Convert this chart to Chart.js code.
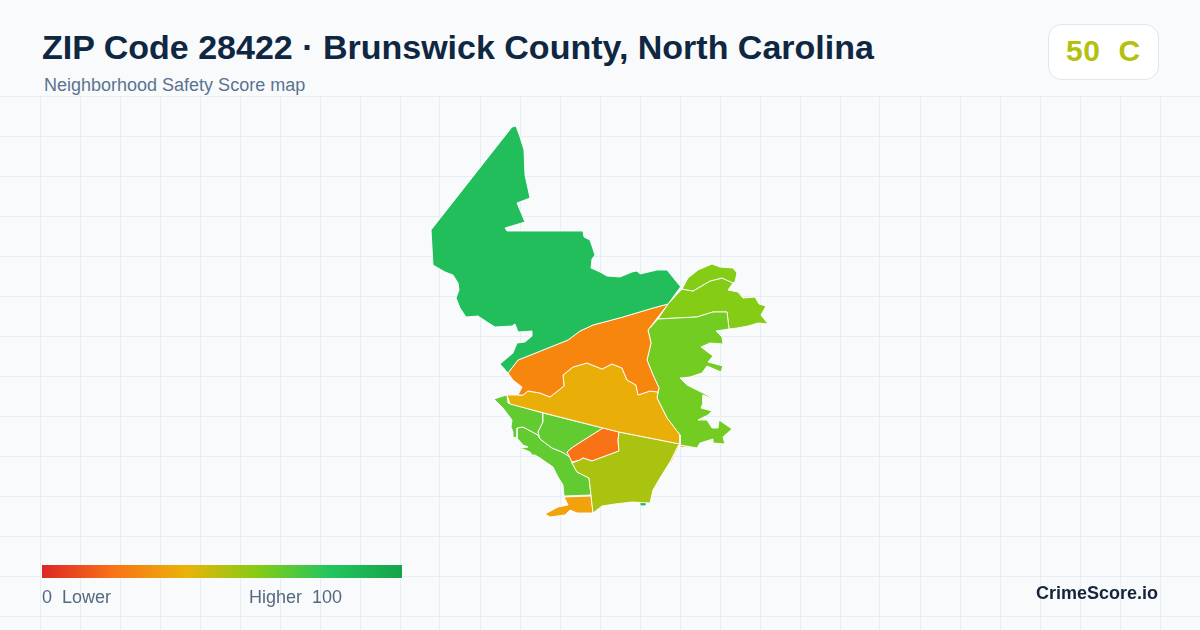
<!DOCTYPE html>
<html><head><meta charset="utf-8">
<script src="https://cdn.jsdelivr.net/npm/chart.js@4"></script>
<style>
html,body{margin:0;padding:0;width:1200px;height:630px;overflow:hidden;background:#f8fafc;font-family:"Liberation Sans",Arial,sans-serif}
#wrap{position:absolute;left:0;top:96px;width:1200px;height:534px}
.t{position:absolute;white-space:pre;line-height:1}
#title{left:42px;top:30px;font-size:34px;font-weight:700;color:#0f2741}
#sub{left:44px;top:76px;font-size:18px;color:#5b7390}
#badge{position:absolute;left:1048px;top:24px;width:109px;height:54px;background:#fff;border:1px solid #dfe6ee;border-radius:14px}
#score{left:1066px;top:36px;font-size:30px;font-weight:700;color:#b5c00e;letter-spacing:.6px}
#bar{position:absolute;left:42px;top:565px;width:360px;height:13px;background:linear-gradient(90deg,#dc2626 0%,#f97316 20%,#eab308 40%,#84cc16 60%,#22c55e 80%,#16a34a 100%)}
#lo{left:42px;top:588px;font-size:18px;color:#56697f}
#hi{left:249px;top:588px;font-size:18px;color:#56697f}
#brand{right:42px;top:584px;font-size:18px;font-weight:700;color:#14243a}
</style></head><body>
<div id="wrap"><canvas id="c" width="1200" height="534"></canvas></div>
<div class="t" id="title">ZIP Code 28422 · Brunswick County, North Carolina</div>
<div class="t" id="sub">Neighborhood Safety Score map</div>
<div id="badge"></div><div class="t" id="score">50  C</div>
<div id="bar"></div>
<div class="t" id="lo">0  Lower</div><div class="t" id="hi">Higher  100</div>
<div class="t" id="brand">CrimeScore.io</div>
<script>
const gridX=[40,80,120,160,200,240,280,320,360,400,440,480,520,560,600,640,680,720,760,800,840,880,920,960,1000,1040,1080,1120,1160];
const gridY=[96,136,176,216,256,296,336,376,416,456,496,536,576,616];
const northGreen=[[516,126],[520,137],[524,150],[525,175],[530,198],[517,203],[525,222],[505,228],[507,231],[583,231],[584,237],[590,240],[595,255],[592,259],[591,268],[600,272],[607,276],[620,277],[632,272],[637,271],[640,274],[657,270],[667,270],[680,286],[687,278],[668,304],[653,308],[623,317],[593,325],[580,331],[568,340],[543,350],[518,360],[508,373],[500,364],[513,353],[517,343],[525,342],[532,336],[532,331],[518,332],[515,324],[512,326],[495,327],[487,322],[478,316],[466,317],[460,308],[456,298],[459,290],[458,283],[453,275],[445,272],[433,265],[431,230],[512,127]];
const centerOrange=[[668,304],[648,330],[651,343],[647,360],[653,375],[659,388],[658,392],[650,391],[638,395],[636,385],[627,380],[622,368],[612,364],[602,369],[587,363],[573,367],[563,375],[564,386],[550,397],[540,393],[528,391],[523,395],[518,395],[522,387],[513,380],[508,373],[518,360],[543,350],[568,340],[580,331],[593,325],[623,317],[653,308]];
const centerYellow=[[507,395],[518,395],[523,395],[528,391],[540,393],[550,397],[564,386],[563,375],[573,367],[587,363],[602,369],[612,364],[622,368],[627,380],[636,385],[638,395],[650,391],[658,392],[657,398],[667,418],[680,435],[680,444],[619,432],[603,428],[544,413],[510,404]];
const eastLime=[[658,319],[677,318],[697,317],[713,312],[727,312],[729,329],[716,331],[722,337],[723,344],[710,343],[701,347],[713,356],[708,362],[723,366],[721,372],[707,366],[702,373],[690,377],[680,378],[687,385],[703,393],[718,401],[708,397],[703,395],[703,403],[701,408],[712,411],[708,415],[698,420],[707,420],[712,428],[718,428],[719,420],[732,429],[723,437],[725,444],[713,443],[713,439],[700,443],[697,448],[680,445],[680,435],[667,418],[657,398],[659,388],[653,375],[647,360],[651,343],[648,330]];
const northEastA=[[688,278],[698,270],[712,264],[720,267],[733,268],[737,273],[735,282],[733,283],[722,278],[710,281],[693,291],[682,289]];
const northEastB=[[682,289],[693,291],[710,281],[722,278],[733,283],[728,290],[738,292],[743,298],[755,297],[759,304],[766,306],[761,315],[768,324],[758,323],[748,326],[737,328],[729,329],[727,312],[713,312],[697,317],[677,318],[658,319],[668,304]];
const southOlive=[[619,432],[680,444],[678,446],[670,462],[660,478],[653,490],[650,503],[632,502],[615,504],[602,506],[593,513],[591,495],[589,478],[577,472],[572,463],[580,460],[583,458],[592,461],[619,451],[618,440]];
const southOrange=[[603,428],[619,432],[618,440],[619,451],[592,461],[583,458],[580,460],[572,462],[567,452],[573,447]];
const coastStripA=[[680,445],[697,449],[690,448],[680,447]];
const coastStripB=[[679,446],[671,463],[670,462],[678,446]];
const midGreen=[[543,413],[603,428],[573,447],[567,452],[570,457],[562,452],[552,448],[540,439],[538,432],[543,422]];
const westGreen=[[494,399],[503,396],[507,395],[508,403],[543,413],[543,422],[538,432],[540,439],[538,435],[523,427],[517,428],[517,438],[513,437],[513,432],[511,427],[512,420],[503,408]];
const coastGreen=[[517,428],[523,427],[538,435],[540,439],[552,448],[562,452],[570,457],[572,463],[577,472],[589,478],[591,495],[564,496],[563,485],[558,477],[553,467],[540,458],[535,455],[532,455],[530,452],[523,449],[515,449],[528,447],[523,445],[517,438]];
const tipOrange=[[564,497],[591,496],[593,513],[577,513],[570,510],[565,515],[550,517],[545,514],[558,507],[568,505]];
const coastSpeck=[[641,503],[645,503],[645,505],[641,505]];
const regions=[
 [northGreen,'#21be5b'],[centerOrange,'#f7860f'],[centerYellow,'#eaae09'],[eastLime,'#72cc22'],
 [northEastA,'#84cc16'],[northEastB,'#84cc16'],[southOlive,'#aac310'],[southOrange,'#f97316'],
 [coastStripA,'#f7860f'],[coastStripB,'#f7860f'],[midGreen,'#62cb32'],[westGreen,'#62cb32'],
 [coastGreen,'#62cb32'],[tipOrange,'#f2a20c'],[coastSpeck,'#21be5b']];
new Chart(document.getElementById('c'),{
 type:'scatter',
 data:{datasets:regions.map(([pts,col])=>({
  data:pts.concat([pts[0]]).map(p=>({x:p[0],y:p[1]})),
  showLine:true,fill:'shape',backgroundColor:col,borderColor:pts===coastSpeck?col:'#fff',borderWidth:0.9,pointRadius:0,tension:0
 }))},
 options:{responsive:false,animation:false,events:[],
  layout:{padding:0},
  plugins:{legend:{display:false},tooltip:{enabled:false}},
  scales:{
   x:{type:'linear',min:0,max:1200,afterBuildTicks:a=>{a.ticks=gridX.map(v=>({value:v}))},ticks:{display:false},grid:{color:'#e6eef3',drawTicks:false},border:{display:false}},
   y:{type:'linear',min:96,max:630,reverse:true,afterBuildTicks:a=>{a.ticks=gridY.map(v=>({value:v}))},ticks:{display:false},grid:{color:'#e6eef3',drawTicks:false},border:{display:false}}
  }}
});
</script></body></html>
